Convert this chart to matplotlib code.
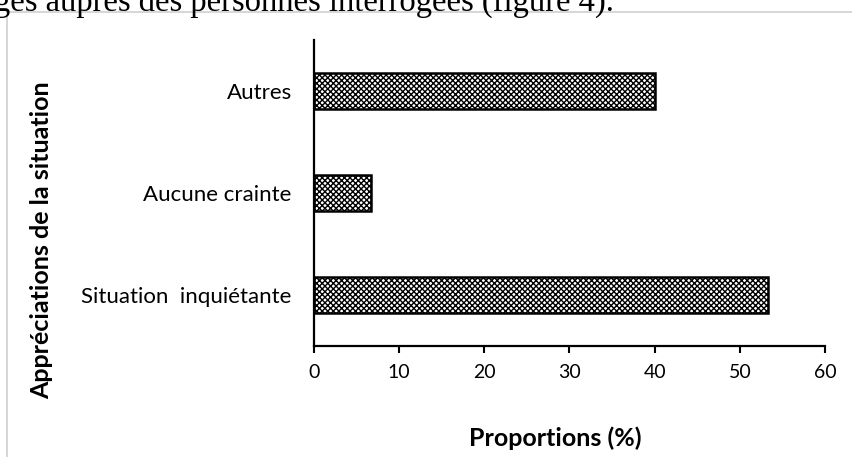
import matplotlib
matplotlib.use("Agg")
import matplotlib.pyplot as plt
from matplotlib.patches import Rectangle

categories = ["Situation  inquiétante", "Aucune crainte", "Autres"]
values = [53.33, 6.67, 40.0]
xticks = [0, 10, 20, 30, 40, 50, 60]

plt.rcParams['font.family'] = ['Lato', 'DejaVu Sans']
plt.rcParams['hatch.linewidth'] = 1.0

fig = plt.figure(figsize=(8.53, 4.57), dpi=100)
ax = fig.add_axes([314/853, 1-346/457, (825-314)/853, (346-40)/457])

ax.barh(range(len(categories)), values, height=0.36, color='white',
        edgecolor='black', linewidth=1.8, hatch='xxxxxx')

ax.set_xlim(0, 60)
ax.set_ylim(-0.5, 2.5)
ax.set_xticks(xticks)
ax.set_yticks(range(len(categories)))
ax.set_yticklabels(categories)
ax.tick_params(axis='y', length=0, pad=16, labelsize=16)
ax.tick_params(axis='x', length=5, width=1.5, direction='out', labelsize=14, pad=8)
for s in ['top', 'right']:
    ax.spines[s].set_visible(False)
for s in ['left', 'bottom']:
    ax.spines[s].set_linewidth(1.6)

fig.text(555/853, 1-438/457, "Proportions (%)", ha='center', va='center',
         fontsize=18, fontweight='bold')
fig.text(42/853, 1-240/457, "Appréciations de la situation", ha='center', va='center',
         rotation=90, fontsize=18, fontweight='bold')

fig.patches.append(Rectangle((7/853, -0.1), 1.2, 1-12/457+0.1, transform=fig.transFigure,
                             fill=False, edgecolor='#d0d0d0', linewidth=1.2))
fig.text(-6/853, 1-11/457, "ges auprès des personnes interrogées (figure 4).",
         ha='left', va='baseline', fontsize=23.5, family='Liberation Serif')

fig.savefig("out.png", dpi=100)
